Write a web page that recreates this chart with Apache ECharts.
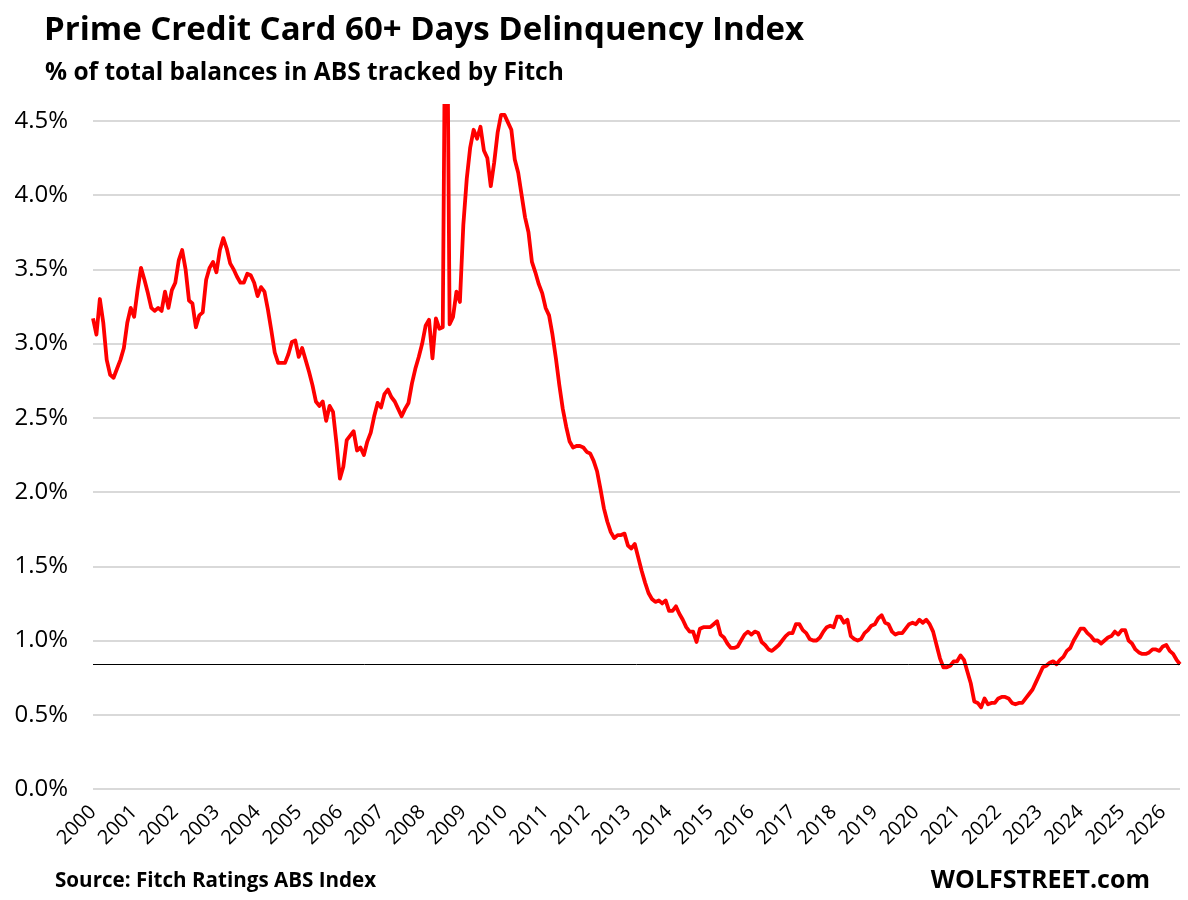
<!DOCTYPE html>
<html>
<head>
<meta charset="utf-8">
<title>Prime Credit Card 60+ Days Delinquency Index</title>
<script src="https://cdn.jsdelivr.net/npm/echarts@6/dist/echarts.min.js"></script>
<style>
  html, body { margin: 0; padding: 0; background: #fff; }
  #chart { width: 1188px; height: 900px; }
</style>
</head>
<body>
<div id="chart"></div>
<script>
// year labels on the x axis (one tick per January)
const yearLabels = [
  "2000", "2001", "2002", "2003", "2004", "2005", "2006", "2007", "2008",
  "2009", "2010", "2011", "2012", "2013", "2014", "2015", "2016", "2017",
  "2018", "2019", "2020", "2021", "2022", "2023", "2024", "2025", "2026"
];

// monthly 60+ day delinquency rate, % of balances, Jan 2000 onward
const delinquency = [
  3.17, 3.06, 3.30, 3.14, 2.89, 2.79, 2.77, 2.83, 2.89, 2.97, 3.14, 3.24,
  3.18, 3.36, 3.51, 3.43, 3.34, 3.24, 3.22, 3.24, 3.22, 3.35, 3.24, 3.36,
  3.41, 3.56, 3.63, 3.50, 3.29, 3.27, 3.11, 3.19, 3.21, 3.43, 3.51, 3.55,
  3.48, 3.63, 3.71, 3.64, 3.54, 3.50, 3.45, 3.41, 3.41, 3.47, 3.46, 3.41,
  3.32, 3.38, 3.35, 3.23, 3.09, 2.94, 2.87, 2.87, 2.87, 2.93, 3.01, 3.02,
  2.91, 2.97, 2.89, 2.81, 2.72, 2.61, 2.58, 2.61, 2.48, 2.58, 2.54, 2.33,
  2.09, 2.17, 2.35, 2.38, 2.41, 2.28, 2.30, 2.25, 2.34, 2.40, 2.51, 2.60,
  2.57, 2.66, 2.69, 2.64, 2.61, 2.56, 2.51, 2.56, 2.60, 2.73, 2.83, 2.91,
  3.00, 3.12, 3.16, 2.90, 3.17, 3.10, 3.11, 6.20, 3.13, 3.18, 3.35, 3.28,
  3.80, 4.11, 4.32, 4.44, 4.38, 4.46, 4.30, 4.25, 4.06, 4.22, 4.42, 4.54,
  4.54, 4.49, 4.44, 4.24, 4.15, 4.00, 3.85, 3.75, 3.55, 3.48, 3.40, 3.34,
  3.24, 3.19, 3.06, 2.90, 2.72, 2.56, 2.44, 2.34, 2.30, 2.31, 2.31, 2.30,
  2.27, 2.26, 2.21, 2.14, 2.02, 1.89, 1.80, 1.73, 1.69, 1.71, 1.71, 1.72,
  1.64, 1.62, 1.65, 1.56, 1.47, 1.39, 1.32, 1.28, 1.26, 1.27, 1.25, 1.27,
  1.20, 1.20, 1.23, 1.18, 1.14, 1.09, 1.06, 1.06, 0.99, 1.08, 1.09, 1.09,
  1.09, 1.11, 1.13, 1.04, 1.02, 0.98, 0.95, 0.95, 0.96, 1.00, 1.04, 1.06,
  1.04, 1.06, 1.05, 0.99, 0.97, 0.94, 0.93, 0.95, 0.97, 1.00, 1.03, 1.05,
  1.05, 1.11, 1.11, 1.07, 1.05, 1.01, 1.00, 1.00, 1.02, 1.06, 1.09, 1.10,
  1.09, 1.16, 1.16, 1.12, 1.14, 1.03, 1.01, 1.00, 1.01, 1.05, 1.07, 1.10,
  1.11, 1.15, 1.17, 1.12, 1.11, 1.06, 1.04, 1.05, 1.05, 1.08, 1.11, 1.12,
  1.11, 1.14, 1.12, 1.14, 1.11, 1.06, 0.97, 0.88, 0.82, 0.82, 0.83, 0.86,
  0.86, 0.90, 0.87, 0.79, 0.71, 0.59, 0.58, 0.55, 0.61, 0.57, 0.58, 0.58,
  0.61, 0.62, 0.62, 0.61, 0.58, 0.57, 0.58, 0.58, 0.61, 0.64, 0.67, 0.72,
  0.77, 0.82, 0.83, 0.85, 0.86, 0.84, 0.87, 0.89, 0.93, 0.95, 1.00, 1.04,
  1.08, 1.08, 1.05, 1.03, 1.00, 1.00, 0.98, 1.00, 1.02, 1.03, 1.06, 1.04,
  1.07, 1.07, 1.00, 0.98, 0.94, 0.92, 0.91, 0.91, 0.92, 0.94, 0.94, 0.93,
  0.96, 0.97, 0.93, 0.91, 0.87, 0.84
];

const monthCodes = ["01", "02", "03", "04", "05", "06", "07", "08", "09", "10", "11", "12"];

// "YYYY-MM" categories, one per data point
const months = [];
yearLabels.forEach(y => monthCodes.forEach(m => months.push(y + "-" + m)));
months.length = delinquency.length;

const latest = delinquency[delinquency.length - 1];

const FONT = "'Open Sans', Lato, sans-serif";

const chart = echarts.init(document.getElementById("chart"), null, { renderer: "canvas" });

const option = {
  backgroundColor: "#fff",
  animation: false,
  textStyle: { fontFamily: FONT },
  title: [
    {
      text: "Prime Credit Card 60+ Days Delinquency Index",
      left: 39,
      top: 9,
      textStyle: { fontFamily: FONT, fontSize: 33, fontWeight: "bold", color: "#000", lineHeight: 33 }
    },
    {
      text: "% of total balances in ABS tracked by Fitch",
      left: 40,
      top: 56,
      textStyle: { fontFamily: FONT, fontSize: 24.5, fontWeight: "bold", color: "#000", lineHeight: 25 }
    },
    {
      text: "Source: Fitch Ratings ABS Index",
      left: 50,
      top: 865,
      textStyle: { fontFamily: FONT, fontSize: 20.6, fontWeight: "bold", color: "#000", lineHeight: 22 }
    },
    {
      text: "WOLFSTREET.com",
      right: 33,
      top: 862,
      textStyle: { fontFamily: FONT, fontSize: 25, fontWeight: "bold", color: "#000", lineHeight: 27 }
    }
  ],
  grid: { left: 93, right: 8, top: 106, bottom: 111, containLabel: false },
  xAxis: {
    type: "category",
    data: months,
    boundaryGap: false,
    axisLine: { show: false },
    axisTick: { show: false },
    splitLine: { show: false },
    axisLabel: {
      interval: (i, v) => v.endsWith("-01"),
      formatter: v => v.slice(0, 4),
      rotate: 45,
      margin: 20,
      fontSize: 20,
      color: "#000",
      fontFamily: FONT
    }
  },
  yAxis: {
    type: "value",
    min: 0,
    max: 4.6,
    interval: 0.5,
    axisLine: { show: false },
    axisTick: { show: false },
    splitLine: {
      show: true,
      showMaxLine: false,
      lineStyle: { color: "#d9d9d9", width: 2 }
    },
    axisLabel: {
      showMaxLabel: false,
      margin: 25,
      fontSize: 24,
      color: "#000",
      fontFamily: FONT,
      formatter: v => (Math.abs(v * 2 - Math.round(v * 2)) > 1e-6 ? "" : v.toFixed(1) + "%")
    }
  },
  series: [
    {
      name: "Delinquency",
      type: "line",
      data: delinquency,
      showSymbol: false,
      symbol: "none",
      clip: true,
      lineStyle: { color: "#ff0000", width: 3.8, join: "round" },
      markLine: {
        silent: true,
        symbol: ["none", "none"],
        label: { show: false },
        lineStyle: { color: "#000", width: 1, type: "solid" },
        data: [{ yAxis: latest }]
      },
      z: 3
    }
  ]
};

chart.setOption(option);
</script>
</body>
</html>
